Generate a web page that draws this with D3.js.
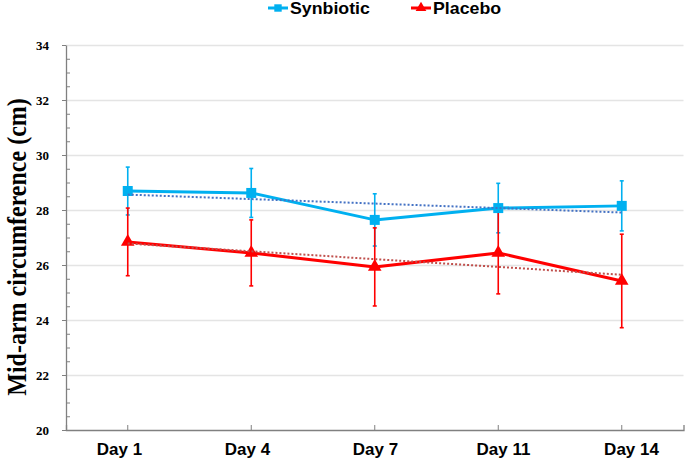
<!DOCTYPE html>
<html><head><meta charset="utf-8">
<script src="https://cdn.jsdelivr.net/npm/d3@7"></script>
<style>body{margin:0;background:#fff}svg{display:block}</style>
</head><body>
<svg id="c" width="685" height="461"></svg>
<script>
const days = ["Day 1","Day 4","Day 7","Day 11","Day 14"];
const synbioticMean = [28.69, 28.62, 27.64, 28.07, 28.15];
const synbioticSD   = [0.87, 0.89, 0.95, 0.90, 0.91];
const placeboMean   = [26.84, 26.44, 25.93, 26.44, 25.42];
const placeboSD     = [1.23, 1.20, 1.42, 1.49, 1.70];
const yTicks = [20,22,24,26,28,30,32,34];
const seriesNames = ["Synbiotic","Placebo"];

const mLeft = 66, mRight = 683.5, mTop = 45, mBottom = 430;
const svg = d3.select("#c");

const x = d3.scaleBand().domain(days).range([mLeft, mRight]).padding(0);
const xLab = d3.scalePoint().domain(days).range([119, 631]);
const y = d3.scaleLinear().domain([20, 34]).range([mBottom, mTop]);
const cx = d => x(d) + x.bandwidth()/2;

function stretchText(sel, s){
  sel.each(function(){
    const t = d3.select(this);
    const tx = +t.attr("x") || 0, ty = +t.attr("y") || 0;
    t.attr("x",0).attr("y",0).attr("transform",`translate(${tx},${ty}) scale(${s},1)`);
  });
}

// gridlines
svg.append("g").attr("transform",`translate(${mLeft},0)`)
  .call(d3.axisLeft(y).tickValues(yTicks.filter(v=>v>20)).tickSize(-(mRight-mLeft)).tickFormat(""))
  .call(g=>g.select(".domain").remove())
  .call(g=>g.selectAll("line").attr("stroke","#e4e4e4").attr("stroke-width",1.3));

// minor ticks
const minor = d3.range(20.5, 34, 0.5).filter(v => v % 2 !== 0);
svg.append("g").attr("transform",`translate(${mLeft},0)`)
  .call(d3.axisRight(y).tickValues(minor).tickSize(4).tickFormat(""))
  .call(g=>g.select(".domain").remove())
  .call(g=>g.selectAll("line").attr("stroke","#808080"));

// y axis
svg.append("g").attr("transform",`translate(${mLeft},0)`)
  .call(d3.axisLeft(y).tickValues(yTicks).tickSize(4).tickSizeOuter(0).tickPadding(13).tickFormat(d3.format("d")))
  .call(g=>g.select(".domain").attr("stroke","#808080").attr("stroke-width",1.3))
  .call(g=>g.selectAll("line").attr("stroke","#808080"))
  .call(g=>g.selectAll("text").attr("font-family","'Liberation Serif','Times New Roman',serif")
     .attr("font-weight","bold").attr("font-size",13).attr("fill","#000"));

// x axis line + ticks
svg.append("g").attr("transform",`translate(0,${mBottom})`)
  .call(d3.axisBottom(x).tickSizeInner(-5).tickSizeOuter(-5).tickFormat(""))
  .call(g=>g.select(".domain").attr("stroke","#808080").attr("stroke-width",1.3))
  .call(g=>g.selectAll("line").attr("stroke","#808080"));

// x labels
svg.append("g").attr("transform",`translate(0,${mBottom})`)
  .call(d3.axisBottom(xLab).tickSize(0).tickPadding(13.3))
  .call(g=>g.select(".domain").remove())
  .call(g=>g.selectAll("text").attr("font-family","'Liberation Sans',Arial,sans-serif")
     .attr("font-weight","bold").attr("font-size",16.5).attr("fill","#000").call(stretchText,1.03));

// y title
svg.append("text")
  .attr("transform",`translate(26,247) scale(1.1,1) rotate(-90)`)
  .attr("text-anchor","middle")
  .attr("font-family","'Liberation Serif','Times New Roman',serif")
  .attr("font-weight","bold").attr("font-size",24).attr("fill","#000")
  .text("Mid-arm circumference (cm)");

const colors = ["#00B0F0","#FF0000"];
const trendColors = ["#4472C4","#C0504D"];
const means = [synbioticMean, placeboMean];
const sds = [synbioticSD, placeboSD];

function linfit(vals){
  const xs = vals.map((_,i)=>i+1);
  const mx = d3.mean(xs), my = d3.mean(vals);
  const b = d3.sum(xs.map((xv,i)=>(xv-mx)*(vals[i]-my))) / d3.sum(xs.map(xv=>(xv-mx)**2));
  return xv => my + b*(xv-mx);
}

const line = d3.line().x(d=>cx(d.day)).y(d=>y(d.v));

// error bars
means.forEach((m,si)=>{
  const g = svg.append("g");
  days.forEach((d,i)=>{
    const xx = cx(d);
    g.append("line").attr("x1",xx).attr("x2",xx).attr("y1",y(m[i]-sds[si][i])).attr("y2",y(m[i]+sds[si][i]))
      .attr("stroke",colors[si]).attr("stroke-width",1.6);
    [m[i]-sds[si][i], m[i]+sds[si][i]].forEach(v=>{
      g.append("line").attr("x1",xx-2).attr("x2",xx+2).attr("y1",y(v)).attr("y2",y(v))
        .attr("stroke",colors[si]).attr("stroke-width",1.6);
    });
  });
});

// lines & markers
means.forEach((m,si)=>{
  const data = days.map((d,i)=>({day:d, v:m[i]}));
  svg.append("path").datum(data).attr("d",line).attr("fill","none")
    .attr("stroke",colors[si]).attr("stroke-width",3).attr("stroke-linejoin","round");
  const sym = si===0 ? d3.symbolSquare : d3.symbolTriangle;
  const size = si===0 ? 100 : 80;
  svg.append("g").selectAll("path").data(data).join("path")
    .attr("transform",d=>`translate(${cx(d.day)},${y(d.v)})`)
    .attr("d",d3.symbol(sym,size)).attr("fill",colors[si]);
});

// trendlines
means.forEach((m,si)=>{
  const f = linfit(m);
  svg.append("line")
    .attr("x1",cx(days[0])).attr("x2",cx(days[days.length-1]))
    .attr("y1",y(f(1))).attr("y2",y(f(days.length)))
    .attr("stroke",trendColors[si]).attr("stroke-width",2).attr("stroke-dasharray","2,2");
});

// legend
const leg = [{x:268, tx:290},{x:411, tx:433}];
seriesNames.forEach((name,si)=>{
  const g = svg.append("g");
  g.append("line").attr("x1",leg[si].x).attr("x2",leg[si].x+20).attr("y1",8).attr("y2",8)
    .attr("stroke",colors[si]).attr("stroke-width",3);
  g.append("path").attr("transform",`translate(${leg[si].x+10},8)`)
    .attr("d",d3.symbol(si===0?d3.symbolSquare:d3.symbolTriangle, si===0?55:50)).attr("fill",colors[si]);
  g.append("text").attr("transform",`translate(${leg[si].tx},14) scale(1.11,1)`)
    .attr("font-family","'Liberation Sans',Arial,sans-serif").attr("font-weight","bold")
    .attr("font-size",16).attr("fill","#000").text(name);
});
</script>
</body></html>
